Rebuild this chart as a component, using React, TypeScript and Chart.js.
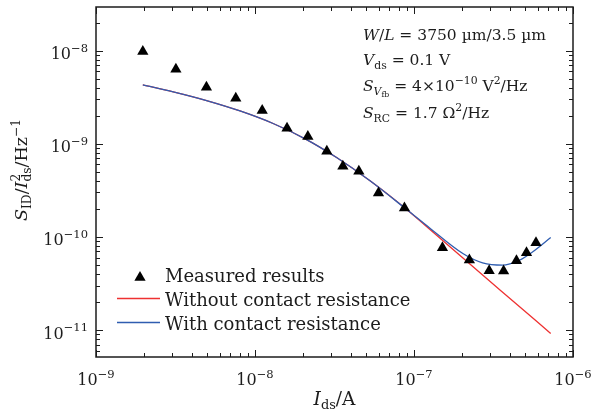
import React, { useEffect, useRef } from 'react';
import { Chart, registerables } from 'chart.js';

Chart.register(...registerables);

// ---- data ----
const measuredIds = [1.97e-9, 3.18e-9, 4.95e-9, 7.57e-9, 1.11e-8, 1.59e-8, 2.15e-8, 2.83e-8, 3.57e-8, 4.5e-8, 5.98e-8, 8.71e-8, 1.51e-7, 2.23e-7, 2.97e-7, 3.66e-7, 4.41e-7, 5.1e-7, 5.85e-7];
const measuredNoise = [9.8e-9, 6.33e-9, 4.05e-9, 3.09e-9, 2.28e-9, 1.47e-9, 1.2e-9, 8.3e-10, 5.73e-10, 5.06e-10, 2.96e-10, 2.05e-10, 7.65e-11, 5.64e-11, 4.34e-11, 4.3e-11, 5.55e-11, 6.76e-11, 8.65e-11];

const withIds = [1.97e-9, 3.06e-9, 4.96e-9, 8.05e-9, 1.3e-8, 2.11e-8, 3.26e-8, 5.29e-8, 8.99e-8, 1.26e-7, 2.04e-7, 2.7e-7, 3.6e-7, 4.6e-7, 5.56e-7, 7.24e-7];
const withRc = [4.28e-9, 3.61e-9, 2.91e-9, 2.25e-9, 1.65e-9, 1.11e-9, 7.11e-10, 4.0e-10, 1.97e-10, 1.24e-10, 6.59e-11, 5.27e-11, 4.98e-11, 5.62e-11, 6.9e-11, 9.86e-11];

const withoutIds = [1.97e-9, 3.06e-9, 4.96e-9, 8.05e-9, 1.3e-8, 2.11e-8, 3.26e-8, 5.29e-8, 8.99e-8, 1.26e-7, 2.04e-7, 3.83e-7, 7.24e-7];
const withoutRc = [4.28e-9, 3.61e-9, 2.91e-9, 2.25e-9, 1.65e-9, 1.11e-9, 7.11e-10, 4.0e-10, 1.97e-10, 1.2e-10, 5.9e-11, 2.34e-11, 9.2e-12];

const xDecades = [-9, -8, -7, -6];
const yDecades = [-11, -10, -9, -8];
const legendLabels = ['Measured results', 'Without contact resistance', 'With contact resistance'];

const RED = '#ee3131';
const BLUE = '#2f5db0';
const INK = '#1c1c1c';
const FAMILY = '"DejaVu Serif", serif';

type Seg = { t?: string; it?: boolean; s?: number; dy?: number; stack?: Seg[] };

const SUB = 0.7;
const sub = (t: string, it = false): Seg => ({ t, it, s: SUB, dy: 0.24 });
const sup = (t: string): Seg => ({ t, s: SUB, dy: -0.42 });
const n = (t: string): Seg => ({ t });
const i = (t: string): Seg => ({ t, it: true });

function fontOf(seg: Seg, size: number) {
  return `${seg.it ? 'italic ' : ''}${(size * (seg.s ?? 1)).toFixed(2)}px ${FAMILY}`;
}
function segWidth(ctx: CanvasRenderingContext2D, seg: Seg, size: number): number {
  if (seg.stack) return Math.max(...seg.stack.map((s) => segWidth(ctx, s, size)));
  ctx.font = fontOf(seg, size);
  return ctx.measureText(seg.t || '').width;
}
function richWidth(ctx: CanvasRenderingContext2D, segs: Seg[], size: number) {
  return segs.reduce((a, s) => a + segWidth(ctx, s, size), 0);
}
function drawRich(ctx: CanvasRenderingContext2D, segs: Seg[], x: number, y: number, size: number) {
  let cx = x;
  for (const seg of segs) {
    const parts = seg.stack ? seg.stack : [seg];
    for (const p of parts) {
      ctx.font = fontOf(p, size);
      ctx.fillText(p.t || '', cx, y + (p.dy ?? 0) * size);
    }
    cx += segWidth(ctx, seg, size);
  }
}

const tickLabel = (d: number): Seg[] => [n('10'), { t: '\u2212' + String(-d), s: 0.72, dy: -0.45 }];

const annotations: Seg[][] = [
  [i('W'), n('/'), i('L'), n(' = 3750 \u00b5m/3.5 \u00b5m')],
  [i('V'), sub('ds'), n(' = 0.1 V')],
  [i('S'), sub('V', true), { t: 'fb', s: 0.5, dy: 0.36 }, n(' = 4\u00d710'), sup('\u221210'), n(' V'), sup('2'), n('/Hz')],
  [i('S'), sub('RC'), n(' = 1.7 \u03a9'), sup('2'), n('/Hz')],
];
const annotationBaselines = [40, 65, 91, 118];

const xTitle: Seg[] = [i('I'), sub('ds'), n('/A')];
const yTitle: Seg[] = [i('S'), sub('ID'), n('/'), i('I'), { stack: [sub('ds'), sup('2')] }, n('/Hz'), sup('\u22121')];

const decorPlugin = {
  id: 'decor',
  afterDraw(chart: any) {
    const ctx: CanvasRenderingContext2D = chart.ctx;
    const { left, right, top, bottom } = chart.chartArea;
    const xs = chart.scales.x;
    const ys = chart.scales.y;
    ctx.save();
    ctx.strokeStyle = INK;
    ctx.fillStyle = INK;
    ctx.lineWidth = 1;
    // ticks (inward, all four sides)
    const MAJ = 7, MIN = 4;
    ctx.beginPath();
    for (let d = -10; d <= -5; d++) {
      for (let m = 1; m <= 9; m++) {
        const v = m * Math.pow(10, d);
        const len = m === 1 ? MAJ : MIN;
        if (v >= xs.min * 0.999 && v <= xs.max * 1.001) {
          const px = Math.round(xs.getPixelForValue(v)) + 0.5;
          ctx.moveTo(px, bottom); ctx.lineTo(px, bottom - len);
          ctx.moveTo(px, top); ctx.lineTo(px, top + len);
        }
      }
    }
    for (let d = -13; d <= -7; d++) {
      for (let m = 1; m <= 9; m++) {
        const v = m * Math.pow(10, d);
        const len = m === 1 ? MAJ : MIN;
        if (v >= ys.min && v <= ys.max) {
          const py = Math.round(ys.getPixelForValue(v)) + 0.5;
          ctx.moveTo(left, py); ctx.lineTo(left + len, py);
          ctx.moveTo(right, py); ctx.lineTo(right - len, py);
        }
      }
    }
    ctx.stroke();
    // frame
    ctx.lineWidth = 1.5;
    ctx.strokeRect(left, top, right - left, bottom - top);

    ctx.textBaseline = 'alphabetic';
    ctx.textAlign = 'left';
    // tick labels
    const TS = 16;
    for (const d of xDecades) {
      const segs = tickLabel(d);
      const w = richWidth(ctx, segs, TS);
      const px = xs.getPixelForValue(Math.pow(10, d));
      drawRich(ctx, segs, px - w / 2, 385, TS);
    }
    for (const d of yDecades) {
      const segs = tickLabel(d);
      const w = richWidth(ctx, segs, TS);
      const py = ys.getPixelForValue(Math.pow(10, d));
      drawRich(ctx, segs, 88 - w, py + 8.5, TS);
    }
    // axis titles
    const AS = 17.5;
    const xw = richWidth(ctx, xTitle, 18.5);
    drawRich(ctx, xTitle, (left + right) / 2 - xw / 2, 405, 18.5);
    const yw = richWidth(ctx, yTitle, AS);
    ctx.save();
    ctx.translate(27, 170);
    ctx.rotate(-Math.PI / 2);
    drawRich(ctx, yTitle, -yw / 2, 0, AS);
    ctx.restore();

    // annotations
    const NS = 15.5;
    annotations.forEach((segs, k) => drawRich(ctx, segs, 363, annotationBaselines[k], NS));

    // legend
    const LS = 18;
    // triangle marker
    const tx = 140, ty = 277.5, r = 6.5;
    ctx.beginPath();
    ctx.moveTo(tx, ty - r);
    ctx.lineTo(tx + r * Math.sin((2 * Math.PI) / 3), ty + r / 2);
    ctx.lineTo(tx - r * Math.sin((2 * Math.PI) / 3), ty + r / 2);
    ctx.closePath();
    ctx.fillStyle = '#000';
    ctx.fill();
    ctx.lineWidth = 1.3;
    ctx.strokeStyle = RED;
    ctx.beginPath(); ctx.moveTo(117, 298.5); ctx.lineTo(160, 298.5); ctx.stroke();
    ctx.strokeStyle = BLUE;
    ctx.beginPath(); ctx.moveTo(117, 322.5); ctx.lineTo(160, 322.5); ctx.stroke();
    ctx.fillStyle = INK;
    ctx.font = `${LS}px ${FAMILY}`;
    ctx.fillText(legendLabels[0], 165, 282);
    ctx.fillText(legendLabels[1], 165, 306);
    ctx.fillText(legendLabels[2], 165, 330);
    ctx.restore();
  },
};

export default function App() {
  const ref = useRef<HTMLCanvasElement | null>(null);
  useEffect(() => {
    if (!ref.current) return;
    const chart = new Chart(ref.current, {
      type: 'line',
      data: {
        datasets: [
          {
            label: legendLabels[0],
            data: measuredIds.map((x, k) => ({ x, y: measuredNoise[k] })),
            showLine: false,
            pointStyle: 'triangle',
            pointRadius: 6.5,
            pointBackgroundColor: '#000',
            pointBorderWidth: 0,
            borderColor: '#000',
          },
          {
            label: legendLabels[2],
            data: withIds.map((x, k) => ({ x, y: withRc[k] })),
            borderColor: BLUE,
            borderWidth: 1.3,
            pointRadius: 0,
            cubicInterpolationMode: 'monotone',
          },
          {
            label: legendLabels[1],
            data: withoutIds.map((x, k) => ({ x, y: withoutRc[k] })),
            borderColor: RED,
            borderWidth: 1.3,
            pointRadius: 0,
            cubicInterpolationMode: 'monotone',
          },
        ],
      },
      options: {
        responsive: false,
        animation: false,
        devicePixelRatio: 1,
        layout: { padding: { left: 96, right: 22, top: 7, bottom: 60 } },
        plugins: { legend: { display: false }, tooltip: { enabled: false } },
        scales: {
          x: { type: 'logarithmic', min: 1e-9, max: 1e-6, display: false },
          y: { type: 'logarithmic', min: 5.14e-12, max: 2.94e-8, display: false },
        },
      },
      plugins: [decorPlugin],
    } as any);
    return () => chart.destroy();
  }, []);
  return (
    <div style={{ position: 'fixed', left: 0, top: 0, width: 595, height: 417, background: '#fff' }}>
      <canvas ref={ref} width={595} height={417} />
    </div>
  );
}
